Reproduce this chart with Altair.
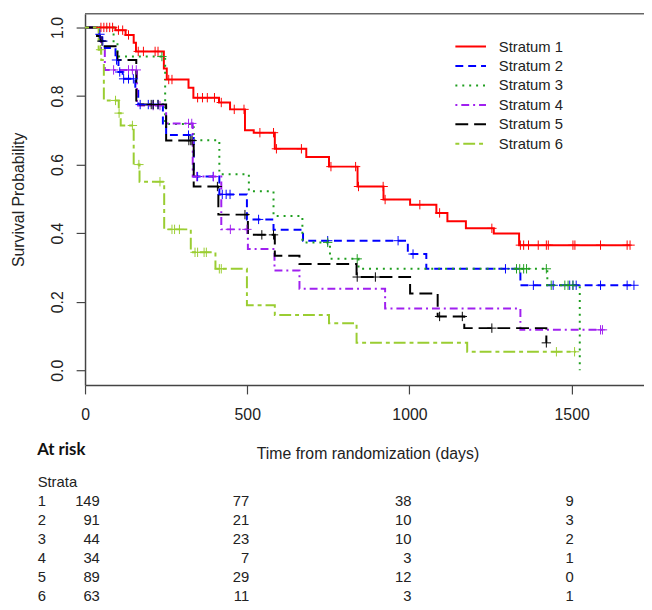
import altair as alt
import pandas as pd

STRATA = ["Stratum 1", "Stratum 2", "Stratum 3", "Stratum 4", "Stratum 5", "Stratum 6"]
COLORS = ["#FF0000", "#0000FF", "#1E9E1E", "#A020F0", "#000000", "#9ACD32"]
DASHES = [[1, 0], [8, 5], [2, 5], [2, 4, 8, 4], [13, 6], [4, 4, 12, 4]]

# ---- Kaplan-Meier steps: event times (days) and survival after each event ----
s1_times = [94, 125, 150, 157, 243, 252, 319, 334, 413, 447, 493, 520, 585, 682, 752, 840, 920, 1002, 1083, 1117, 1174, 1260, 1338]
s1_surv = [0.992, 0.978, 0.955, 0.93, 0.88, 0.848, 0.824, 0.795, 0.781, 0.761, 0.70, 0.693, 0.646, 0.622, 0.594, 0.536, 0.498, 0.483, 0.459, 0.435, 0.414, 0.399, 0.365]
s1_cens = [49, 58, 67, 76, 85, 103, 116, 134, 164, 180, 216, 225, 258, 268, 347, 362, 377, 399, 420, 460, 490, 539, 581, 590, 667, 758, 834, 843, 919, 925, 1032, 1093, 1254, 1342, 1352, 1367, 1397, 1422, 1428, 1504, 1510, 1589, 1671, 1680]
s1_end = 1680

s2_times = [43, 52, 61, 94, 103, 116, 155, 164, 240, 250, 335, 414, 499, 581, 672, 995, 1052, 1342]
s2_surv = [0.98, 0.96, 0.94, 0.905, 0.87, 0.85, 0.82, 0.775, 0.72, 0.686, 0.565, 0.513, 0.44, 0.41, 0.378, 0.339, 0.296, 0.248]
s2_cens = [46, 55, 97, 107, 119, 134, 149, 170, 195, 210, 225, 319, 347, 395, 423, 435, 447, 535, 748, 965, 1011, 1296, 1382, 1443, 1494, 1504, 1514, 1589, 1671, 1692]
s2_end = 1692

s3_times = [88, 100, 247, 335, 414, 505, 581, 670, 755, 843, 1425, 1525]
s3_surv = [0.955, 0.915, 0.718, 0.671, 0.572, 0.522, 0.45, 0.373, 0.325, 0.296, 0.248, 0.0]
s3_cens = [237, 748, 839, 1330, 1340, 1352, 1361, 1422, 1437, 1479, 1489, 1504]
s3_end = 1525

s4_times = [43, 49, 61, 160, 250, 332, 420, 502, 584, 661, 925, 1342]
s4_surv = [0.97, 0.94, 0.876, 0.772, 0.72, 0.565, 0.411, 0.354, 0.291, 0.238, 0.18, 0.118]
s4_cens = [88, 134, 146, 158, 210, 231, 319, 329, 344, 396, 448, 499, 1589, 1595]
s4_end = 1595

s5_times = [37, 46, 55, 100, 158, 250, 335, 411, 502, 585, 661, 837, 1002, 1087, 1169, 1422]
s5_surv = [0.975, 0.96, 0.945, 0.905, 0.775, 0.67, 0.536, 0.454, 0.395, 0.334, 0.31, 0.272, 0.224, 0.157, 0.123, 0.08]
s5_cens = [52, 204, 210, 225, 320, 326, 330, 408, 493, 545, 581, 839, 895, 1093, 1163, 1254, 1422]
s5_end = 1422

s6_times = [42, 50, 58, 104, 110, 150, 168, 244, 326, 402, 499, 585, 752, 837, 1178]
s6_surv = [0.935, 0.905, 0.787, 0.75, 0.714, 0.60, 0.55, 0.411, 0.344, 0.296, 0.19, 0.161, 0.137, 0.08, 0.054]
s6_cens = [48, 94, 105, 146, 166, 231, 268, 276, 291, 339, 347, 367, 374, 414, 420, 1453, 1509]
s6_end = 1513

# ---- At-risk table ----
risk_times = [0, 500, 1000, 1500]
risk_s1 = [149, 77, 38, 9]
risk_s2 = [91, 21, 10, 3]
risk_s3 = [44, 23, 10, 2]
risk_s4 = [34, 7, 3, 1]
risk_s5 = [89, 29, 12, 0]
risk_s6 = [63, 11, 3, 1]

# ---------------------------------------------------------------
curves = [
    (s1_times, s1_surv, s1_cens, s1_end),
    (s2_times, s2_surv, s2_cens, s2_end),
    (s3_times, s3_surv, s3_cens, s3_end),
    (s4_times, s4_surv, s4_cens, s4_end),
    (s5_times, s5_surv, s5_cens, s5_end),
    (s6_times, s6_surv, s6_cens, s6_end),
]


def surv_at(t, times, surv):
    s = 1.0
    for ti, si in zip(times, surv):
        if ti <= t:
            s = si
    return s


line_rows, cens_rows = [], []
for name, (times, surv, cens, end) in zip(STRATA, curves):
    pts = [(0, 1.0)] + list(zip(times, surv)) + [(end, surv[-1])]
    for i, (t, s) in enumerate(pts):
        line_rows.append({"stratum": name, "t": t, "s": s, "i": i})
    for t in cens:
        cens_rows.append({"stratum": name, "t": t, "s": surv_at(t, times, surv)})
lines_df = pd.DataFrame(line_rows)
cens_df = pd.DataFrame(cens_rows)

risk_all = [risk_s1, risk_s2, risk_s3, risk_s4, risk_s5, risk_s6]
table_rows = []
for r, vals in enumerate(risk_all, start=1):
    for t, v in zip(risk_times, vals):
        table_rows.append({"row": r, "t": t, "n": str(v)})
table_df = pd.DataFrame(table_rows)
rowlab_df = pd.DataFrame({"row": [0, 1, 2, 3, 4, 5, 6],
                          "lab": ["Strata", "1", "2", "3", "4", "5", "6"]})
legend_df = pd.DataFrame({"stratum": STRATA, "row": [1, 2, 3, 4, 5, 6]})

W, H = 566, 376
XMAX = 1723
FONT = "Liberation Sans"
AX = "#444"
TXT = "#222"

xscale = alt.Scale(domain=[0, XMAX], nice=False, zero=False)
yscale = alt.Scale(domain=[-0.043, 1.040], nice=False, zero=False)
color = alt.Color("stratum:N", scale=alt.Scale(domain=STRATA, range=COLORS), legend=None)
dash = alt.StrokeDash("stratum:N", scale=alt.Scale(domain=STRATA, range=DASHES), legend=None)

xaxis = alt.Axis(values=risk_times, format="d", tickSize=9, labelPadding=13, labelFontSize=16,
                 labelFlush=False, labelFont=FONT, labelColor=TXT, grid=False,
                 domainColor=AX, tickColor=AX, domainWidth=1.5, tickWidth=1.2,
                 title="Time from randomization (days)", titleFont=FONT, titleFontSize=16,
                 titleFontWeight="normal", titleColor=TXT, titleX=286, titleY=69,
                 titleAlign="center", titleBaseline="middle")
yaxis = alt.Axis(values=[0, 0.2, 0.4, 0.6, 0.8, 1.0], format=".1f", tickSize=9, labelPadding=11,
                 labelAngle=270, labelAlign="center", labelBaseline="bottom", labelFontSize=16,
                 labelFlush=False, labelFont=FONT, labelColor=TXT, grid=False,
                 domainColor=AX, tickColor=AX, domainWidth=1.5, tickWidth=1.2,
                 title="Survival Probability", titleFont=FONT, titleFontSize=16,
                 titleFontWeight="normal", titleColor=TXT, titleAngle=270, titleX=-67.5,
                 titleY=188, titleAlign="center", titleBaseline="middle")

X = alt.X("t:Q", scale=xscale, axis=xaxis)

km_lines = alt.Chart(lines_df).mark_line(interpolate="step-after", strokeWidth=2).encode(
    x=X,
    y=alt.Y("s:Q", scale=yscale, axis=yaxis),
    color=color,
    strokeDash=dash,
    order=alt.Order("i:Q"),
)
km_cens = alt.Chart(cens_df).mark_point(shape="M-1,0L1,0M0,-1L0,1", filled=False, size=90,
                                        strokeWidth=1, opacity=1).encode(
    x=X,
    y=alt.Y("s:Q", scale=yscale, axis=yaxis),
    color=color,
)
top_border = alt.Chart(pd.DataFrame({"a": [0]})).mark_rule(color="#666", strokeWidth=1.5).encode(
    x=alt.value(0), x2=alt.value(W), y=alt.value(0))

plot = alt.layer(km_lines, km_cens, top_border)

# legend (drawn as marks)
leg_y = alt.Y("row:Q", scale=alt.Scale(domain=[1, 6], range=[33.3, 131.7]), axis=None)
leg_lines = alt.Chart(legend_df).mark_rule(strokeWidth=2).encode(
    x=alt.value(375), x2=alt.value(406), y=leg_y, color=color, strokeDash=dash)
leg_text = alt.Chart(legend_df).mark_text(align="left", baseline="middle", font=FONT,
                                          fontSize=15, color=TXT).encode(
    x=alt.value(419), y=leg_y, text="stratum:N")
legend = alt.layer(leg_lines, leg_text)

# at-risk table
tab_y = alt.Y("row:Q", scale=alt.Scale(domain=[0, 6], range=[474, 590]), axis=None)
tab_first = alt.Chart(table_df[table_df["t"] == 0]).mark_text(
    align="right", baseline="middle", font=FONT, fontSize=15, color=TXT, dx=15).encode(
    x=X, y=tab_y, text="n:N")
tab_rest = alt.Chart(table_df[table_df["t"] > 0]).mark_text(
    align="right", baseline="middle", font=FONT, fontSize=15, color=TXT, dx=2).encode(
    x=X, y=tab_y, text="n:N")
tab_labels = alt.Chart(rowlab_df).mark_text(
    align="left", baseline="middle", font=FONT, fontSize=15, color=TXT).encode(
    x=alt.value(-48), y=tab_y, text="lab:N")
at_risk = alt.Chart(pd.DataFrame({"a": ["At risk"]})).mark_text(
    align="left", baseline="middle", font="Lato", fontSize=17, fontWeight="bold", color="#111").encode(
    x=alt.value(-48.5), y=alt.value(442), text="a:N")
table = alt.layer(tab_first, tab_rest, tab_labels, at_risk)

chart = alt.layer(plot, legend, table).resolve_scale(y="independent").properties(
    width=W, height=H,
    autosize=alt.AutoSizeParams(type="none"),
    padding={"left": 78, "top": 2, "right": 0, "bottom": 222},
    background="white",
).configure_view(stroke=None)

chart.save("out.html", embed_options={"renderer": "svg", "actions": False})
